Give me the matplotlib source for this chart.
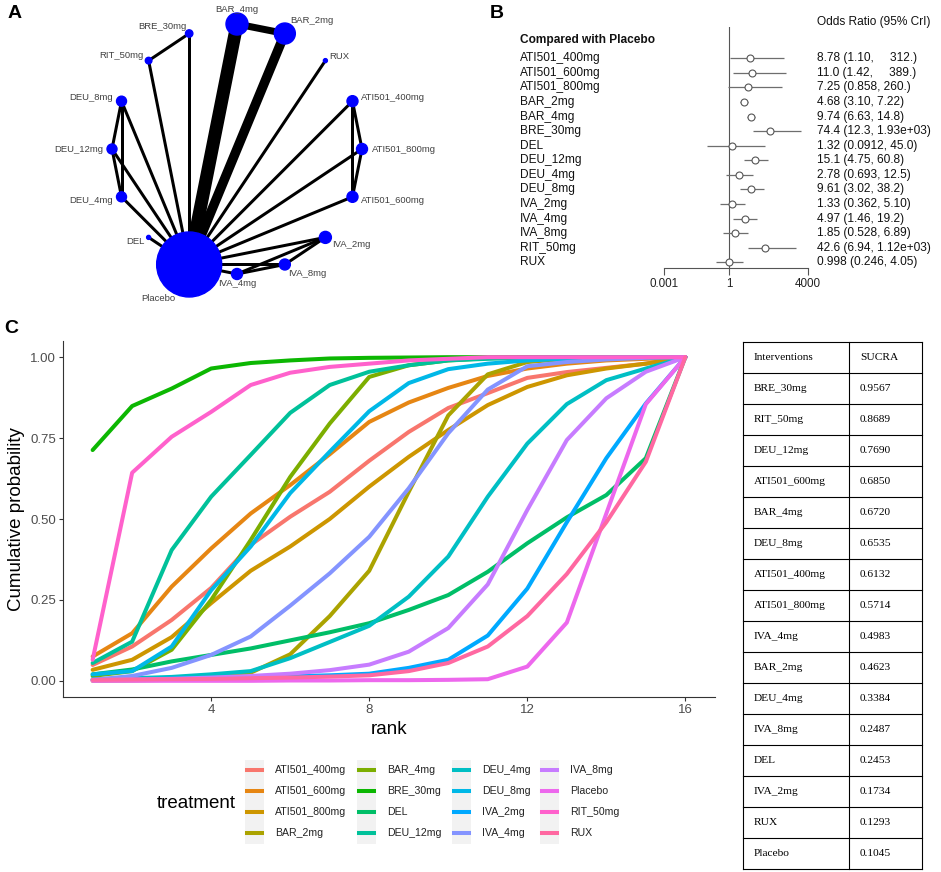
import numpy as np
import matplotlib
matplotlib.use('Agg')
import matplotlib.pyplot as plt
from matplotlib.patches import Circle, Rectangle
from matplotlib.transforms import blended_transform_factory

plt.rcParams['font.family'] = ['Liberation Sans', 'DejaVu Sans']

W, H = 941, 872

# ---------------- data ----------------
treatments = ['ATI501_400mg', 'ATI501_600mg', 'ATI501_800mg', 'BAR_2mg', 'BAR_4mg',
              'BRE_30mg', 'DEL', 'DEU_12mg', 'DEU_4mg', 'DEU_8mg', 'IVA_2mg',
              'IVA_4mg', 'IVA_8mg', 'Placebo', 'RIT_50mg', 'RUX']
ranks = list(range(1, 17))

# cumulative ranking probabilities, rank 1..16
ati400 = [0.049, 0.106, 0.188, 0.287, 0.42, 0.507, 0.584, 0.68, 0.769, 0.843, 0.889, 0.936, 0.954, 0.967, 0.98, 1.0]
ati600 = [0.075, 0.147, 0.291, 0.409, 0.517, 0.605, 0.70, 0.80, 0.86, 0.905, 0.942, 0.965, 0.98, 0.99, 0.995, 1.0]
ati800 = [0.034, 0.065, 0.135, 0.24, 0.34, 0.415, 0.50, 0.60, 0.692, 0.775, 0.852, 0.908, 0.944, 0.965, 0.98, 1.0]
bar2 = [0.0, 0.001, 0.003, 0.008, 0.025, 0.082, 0.20, 0.34, 0.584, 0.82, 0.947, 0.985, 0.995, 0.998, 1.0, 1.0]
bar4 = [0.015, 0.03, 0.096, 0.25, 0.435, 0.63, 0.795, 0.939, 0.975, 0.99, 0.997, 1.0, 1.0, 1.0, 1.0, 1.0]
bre30 = [0.713, 0.849, 0.903, 0.965, 0.982, 0.99, 0.996, 0.998, 0.999, 1.0, 1.0, 1.0, 1.0, 1.0, 1.0, 1.0]
dele = [0.02, 0.035, 0.06, 0.08, 0.10, 0.125, 0.15, 0.178, 0.219, 0.265, 0.337, 0.425, 0.505, 0.574, 0.688, 1.0]
deu12 = [0.055, 0.121, 0.404, 0.569, 0.698, 0.828, 0.914, 0.955, 0.975, 0.99, 0.995, 0.998, 1.0, 1.0, 1.0, 1.0]
deu4 = [0.005, 0.008, 0.012, 0.02, 0.03, 0.07, 0.12, 0.17, 0.26, 0.384, 0.569, 0.733, 0.855, 0.929, 0.965, 1.0]
deu8 = [0.02, 0.03, 0.106, 0.28, 0.415, 0.58, 0.708, 0.833, 0.92, 0.963, 0.98, 0.99, 0.995, 0.998, 1.0, 1.0]
iva2 = [0.003, 0.005, 0.007, 0.009, 0.011, 0.014, 0.017, 0.022, 0.04, 0.065, 0.14, 0.285, 0.49, 0.688, 0.857, 1.0]
iva4 = [0.003, 0.015, 0.04, 0.08, 0.137, 0.232, 0.332, 0.445, 0.595, 0.765, 0.90, 0.972, 0.985, 0.993, 0.998, 1.0]
iva8 = [0.002, 0.004, 0.006, 0.01, 0.015, 0.022, 0.033, 0.05, 0.09, 0.163, 0.298, 0.528, 0.744, 0.873, 0.955, 1.0]
placebo = [0.0, 0.0, 0.0, 0.0, 0.0, 0.001, 0.001, 0.002, 0.002, 0.003, 0.005, 0.044, 0.18, 0.517, 0.855, 1.0]
rit50 = [0.065, 0.643, 0.754, 0.831, 0.914, 0.952, 0.97, 0.98, 0.99, 0.995, 1.0, 1.0, 1.0, 1.0, 1.0, 1.0]
rux = [0.003, 0.004, 0.005, 0.006, 0.008, 0.01, 0.013, 0.017, 0.03, 0.055, 0.106, 0.20, 0.33, 0.49, 0.677, 1.0]
curves = [ati400, ati600, ati800, bar2, bar4, bre30, dele, deu12, deu4, deu8,
          iva2, iva4, iva8, placebo, rit50, rux]

# network (circle order starting at 3 o'clock, counter-clockwise)
net_nodes = ['ATI501_800mg', 'ATI501_400mg', 'RUX', 'BAR_2mg', 'BAR_4mg', 'BRE_30mg',
             'RIT_50mg', 'DEU_8mg', 'DEU_12mg', 'DEU_4mg', 'DEL', 'Placebo',
             'IVA_4mg', 'IVA_8mg', 'IVA_2mg', 'ATI501_600mg']
net_size = [5.5, 5.5, 2, 10.5, 11, 3.7, 3.3, 5, 5, 5, 2, 32.5, 5.5, 5.5, 6, 5.5]
net_edges = [('Placebo', 'BAR_4mg', 13), ('Placebo', 'BAR_2mg', 9.5), ('BAR_4mg', 'BAR_2mg', 7),
             ('Placebo', 'BRE_30mg', 3), ('BRE_30mg', 'RIT_50mg', 3), ('Placebo', 'RIT_50mg', 3),
             ('Placebo', 'RUX', 3), ('Placebo', 'DEU_8mg', 3), ('Placebo', 'DEU_12mg', 3),
             ('Placebo', 'DEU_4mg', 3), ('DEU_8mg', 'DEU_12mg', 3), ('DEU_8mg', 'DEU_4mg', 3),
             ('DEU_12mg', 'DEU_4mg', 3), ('Placebo', 'DEL', 3), ('Placebo', 'ATI501_400mg', 3),
             ('Placebo', 'ATI501_800mg', 3), ('Placebo', 'ATI501_600mg', 3),
             ('ATI501_400mg', 'ATI501_800mg', 3), ('ATI501_400mg', 'ATI501_600mg', 3),
             ('ATI501_800mg', 'ATI501_600mg', 3), ('Placebo', 'IVA_2mg', 3), ('Placebo', 'IVA_8mg', 3),
             ('Placebo', 'IVA_4mg', 3), ('IVA_2mg', 'IVA_8mg', 3), ('IVA_2mg', 'IVA_4mg', 3),
             ('IVA_8mg', 'IVA_4mg', 3)]

# forest plot vs placebo
forest_names = ['ATI501_400mg', 'ATI501_600mg', 'ATI501_800mg', 'BAR_2mg', 'BAR_4mg', 'BRE_30mg',
                'DEL', 'DEU_12mg', 'DEU_4mg', 'DEU_8mg', 'IVA_2mg', 'IVA_4mg', 'IVA_8mg',
                'RIT_50mg', 'RUX']
forest_or = [8.78, 11.0, 7.25, 4.68, 9.74, 74.4, 1.32, 15.1, 2.78, 9.61, 1.33, 4.97, 1.85, 42.6, 0.998]
forest_lo = [1.10, 1.42, 0.858, 3.10, 6.63, 12.3, 0.0912, 4.75, 0.693, 3.02, 0.362, 1.46, 0.528, 6.94, 0.246]
forest_hi = [312, 389, 260, 7.22, 14.8, 1930, 45.0, 60.8, 12.5, 38.2, 5.10, 19.2, 6.89, 1120, 4.05]
forest_text = ['8.78 (1.10,     312.)', '11.0 (1.42,     389.)', '7.25 (0.858, 260.)',
               '4.68 (3.10, 7.22)', '9.74 (6.63, 14.8)', '74.4 (12.3, 1.93e+03)',
               '1.32 (0.0912, 45.0)', '15.1 (4.75, 60.8)', '2.78 (0.693, 12.5)',
               '9.61 (3.02, 38.2)', '1.33 (0.362, 5.10)', '4.97 (1.46, 19.2)',
               '1.85 (0.528, 6.89)', '42.6 (6.94, 1.12e+03)', '0.998 (0.246, 4.05)']

# SUCRA table
sucra_names = ['BRE_30mg', 'RIT_50mg', 'DEU_12mg', 'ATI501_600mg', 'BAR_4mg', 'DEU_8mg',
               'ATI501_400mg', 'ATI501_800mg', 'IVA_4mg', 'BAR_2mg', 'DEU_4mg', 'IVA_8mg',
               'DEL', 'IVA_2mg', 'RUX', 'Placebo']
sucra_vals = [0.9567, 0.8689, 0.7690, 0.6850, 0.6720, 0.6535, 0.6132, 0.5714, 0.4983,
              0.4623, 0.3384, 0.2487, 0.2453, 0.1734, 0.1293, 0.1045]


# ggplot default hue palette
def hcl_hex(h, c=100, l=65):
    hr = np.deg2rad(h)
    U, V = c * np.cos(hr), c * np.sin(hr)
    Y = 100 * ((l + 16) / 116) ** 3
    u = U / (13 * l) + 0.1978398
    v = V / (13 * l) + 0.4683363
    X = 9.0 * Y * u / (4 * v)
    Z = -X / 3 - 5 * Y + 3 * Y / v
    rgb = np.array([3.240479 * X - 1.537150 * Y - 0.498535 * Z,
                    -0.969256 * X + 1.875992 * Y + 0.041556 * Z,
                    0.055648 * X - 0.204043 * Y + 1.057311 * Z]) / 100
    rgb = np.where(rgb > 0.00304, 1.055 * np.abs(rgb) ** (1 / 2.4) - 0.055, 12.92 * rgb)
    rgb = np.clip(rgb, 0, 1)
    return '#%02X%02X%02X' % tuple(int(round(x * 255)) for x in rgb)


colors = [hcl_hex(h) for h in np.linspace(15, 375, len(treatments) + 1)[:-1]]


def frac(x0, y0, x1, y1):
    return [x0 / W, 1 - y1 / H, (x1 - x0) / W, (y1 - y0) / H]


fig = plt.figure(figsize=(W / 100, H / 100), dpi=100)

# overlay axes in pixel coordinates for panel letters, legend and table
axO = fig.add_axes([0, 0, 1, 1])
axO.set_xlim(0, W)
axO.set_ylim(H, 0)
axO.axis('off')
axO.text(15, 13, 'A', fontsize=14, fontweight='bold', ha='center', va='center')
axO.text(497, 13, 'B', fontsize=14, fontweight='bold', ha='center', va='center')
axO.text(11, 328, 'C', fontsize=14, fontweight='bold', ha='center', va='center')

# ---------------- panel A: network ----------------
axA = fig.add_axes(frac(0, 0, 440, 310))
axA.set_xlim(0, 440)
axA.set_ylim(310, 0)
axA.axis('off')
cx, cy, R = 237, 149, 125
pos = {}
for i, name in enumerate(net_nodes):
    a = np.deg2rad(i * 360 / len(net_nodes))
    pos[name] = (cx + R * np.cos(a), cy - R * np.sin(a), a)
for n1, n2, w in net_edges:
    axA.plot([pos[n1][0], pos[n2][0]], [pos[n1][1], pos[n2][1]], color='black',
             lw=w * 0.72, solid_capstyle='butt', zorder=1)
for name, r in zip(net_nodes, net_size):
    x, y, a = pos[name]
    axA.add_patch(Circle((x, y), r, color='#0000FF', zorder=2))
    d = r + 4
    ca, sa = np.cos(a), np.sin(a)
    ha = 'left' if ca > 0.2 else ('right' if ca < -0.2 else 'center')
    axA.text(x + d * ca, y - d * sa, name, fontsize=6.8, color='#404040',
             ha=ha, va='center', zorder=3)

# ---------------- panel B: forest ----------------
nrow = len(forest_names)
rows = np.arange(nrow)
axB = fig.add_axes(frac(664, 27, 808, 268))
axB.set_xscale('log')
axB.set_xlim(0.001, 4000)
axB.set_ylim(14.39, -2.15)
axB.axvline(1, color='#555555', lw=0.8)
axB.hlines(rows, forest_lo, forest_hi, color='#6e6e6e', lw=0.9)
axB.plot(forest_or, rows, 'o', mfc='white', mec='#555555', ms=5, mew=0.8, zorder=3)
for s in ['top', 'right', 'left']:
    axB.spines[s].set_visible(False)
axB.spines['bottom'].set_color('#555555')
axB.spines['bottom'].set_linewidth(0.8)
axB.set_yticks([])
axB.set_xticks([0.001, 1, 4000])
axB.set_xticklabels(['0.001', '1', '4000'])
axB.minorticks_off()
axB.tick_params(axis='x', length=5, width=0.8, color='#555555', labelsize=8.4,
                labelcolor='#222222', pad=2)
trB = blended_transform_factory(fig.transFigure, axB.transData)
for i, (nm, tx) in enumerate(zip(forest_names, forest_text)):
    axB.text(520 / W, i, nm, transform=trB, fontsize=8.6, va='center', ha='left', color='#111111')
    axB.text(817 / W, i, tx, transform=trB, fontsize=8.6, va='center', ha='left', color='#111111')
axB.text(520 / W, -1.26, 'Compared with Placebo', transform=trB, fontsize=8.6,
         fontweight='bold', va='center', ha='left', color='#111111')
axB.text(817 / W, -2.5, 'Odds Ratio (95% CrI)', transform=trB, fontsize=8.6,
         va='center', ha='left', color='#111111', clip_on=False)

# ---------------- panel C: cumulative ranking ----------------
axC = fig.add_axes(frac(63, 341, 715, 697))
for vals, col in zip(curves, colors):
    axC.plot(ranks, vals, color=col, lw=2.9, solid_joinstyle='round', solid_capstyle='round')
axC.set_xlim(0.25, 16.75)
axC.set_ylim(-0.05, 1.05)
axC.set_xticks([4, 8, 12, 16])
axC.set_yticks([0, 0.25, 0.5, 0.75, 1.0])
axC.set_yticklabels(['0.00', '0.25', '0.50', '0.75', '1.00'])
for s in ['top', 'right']:
    axC.spines[s].set_visible(False)
for s in ['left', 'bottom']:
    axC.spines[s].set_color('#333333')
    axC.spines[s].set_linewidth(0.8)
axC.tick_params(length=3, width=0.8, color='#333333', labelsize=9.5, labelcolor='#4D4D4D', pad=2)
axC.set_xlabel('rank', fontsize=13.5)
axC.set_ylabel('Cumulative probability', fontsize=13.5)
axC.xaxis.set_label_coords(0.5, -0.068)
axC.yaxis.set_label_coords(-0.058, 0.5)

# legend (ggplot style, 4 columns)
key_x = [245, 357, 452, 540]
row_y0, row_h = 759.5, 21
axO.text(236, 803, 'treatment', fontsize=13.5, ha='right', va='center')
for j, kx in enumerate(key_x):
    axO.add_patch(Rectangle((kx, row_y0), 19, 4 * row_h, color='#F2F2F2', lw=0))
for i, (name, col) in enumerate(zip(treatments, colors)):
    c, r = i // 4, i % 4
    yy = row_y0 + (r + 0.5) * row_h
    axO.plot([key_x[c] + 2, key_x[c] + 17], [yy, yy], color=col, lw=2.9)
    axO.text(key_x[c] + 30, yy, name, fontsize=7.6, color='#222222', ha='left', va='center')

# ---------------- SUCRA table ----------------
tx0, tx1, tx2 = 743, 849, 922
ty0, rh = 342, 31
table_rows = [('Interventions', 'SUCRA')] + [(n, '%.4f' % v) for n, v in zip(sucra_names, sucra_vals)]
nt = len(table_rows)
for k in range(nt + 1):
    axO.plot([tx0, tx2], [ty0 + k * rh] * 2, color='black', lw=0.8)
for xx in [tx0, tx1, tx2]:
    axO.plot([xx, xx], [ty0, ty0 + nt * rh], color='black', lw=0.8)
for k, (a, b) in enumerate(table_rows):
    yy = ty0 + (k + 0.5) * rh
    axO.text(tx0 + 11, yy, a, family=['Liberation Serif', 'DejaVu Serif'], fontsize=8.2, va='center')
    axO.text(tx1 + 11, yy, b, family=['Liberation Serif', 'DejaVu Serif'], fontsize=8.2, va='center')

fig.savefig('out.png', dpi=100)
